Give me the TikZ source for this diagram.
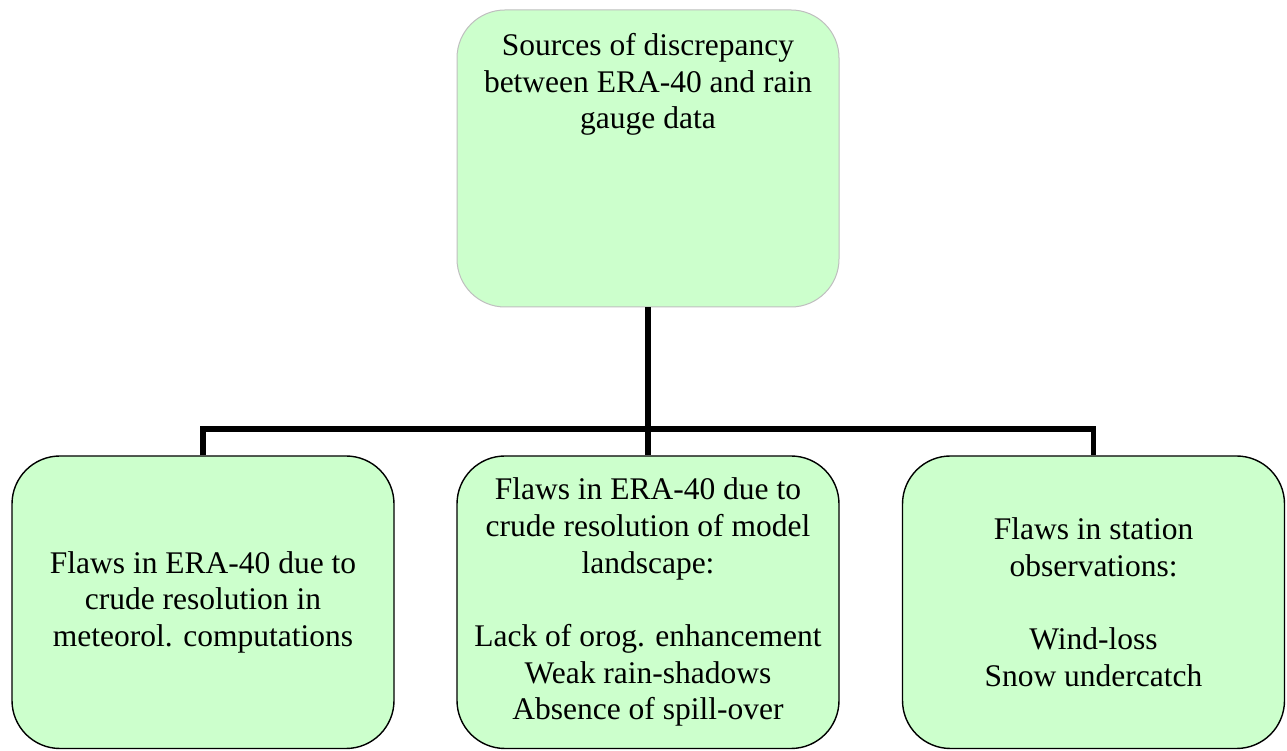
\documentclass[tikz,border=0pt]{standalone}
\usepackage{fontspec}
\setmainfont{Liberation Serif}
\definecolor{boxgreen}{HTML}{CCFFCC}
\definecolor{boxgray}{HTML}{BFBFBF}
\begin{document}
\begin{tikzpicture}[x=1pt,y=1pt,
  lbl/.style={align=center, inner sep=0pt, font=\fontsize{31.5}{36.7}\selectfont},
  box/.style={lbl, draw=black, line width=1.4pt, fill=boxgreen, rounded corners=48pt,
              minimum width=382pt, minimum height=292.5pt},
  topbox/.style={box, draw=boxgray, line width=1pt, minimum height=297pt},
  conn/.style={draw=black, line width=5.5pt, line join=miter}]
\useasboundingbox (0,0) rectangle (1287,751);

\node[topbox] (top) at (648,592.5) {};
\node[lbl, anchor=north] (toptext) at ([yshift=-23.5pt]top.north)
  {Sources of discrepancy\\between ERA-40 and rain\\gauge data};

\node[box] (left) at (203,148.75)
  {Flaws in ERA-40 due to\\crude resolution in\\meteorol. computations};
\node[box] (mid) at (648,148.75)
  {Flaws in ERA-40 due to\\crude resolution of model\\landscape:\\[36.7pt]Lack of orog. enhancement\\Weak rain-shadows\\Absence of spill-over};
\node[box] (right) at (1093.5,148.75)
  {Flaws in station\\observations:\\[36.7pt]Wind-loss\\Snow undercatch};

\coordinate (bus) at (648,322);
\draw[conn] (top.south) -- (mid.north);
\draw[conn] (left.north) |- (bus) -| (right.north);
\end{tikzpicture}
\end{document}
